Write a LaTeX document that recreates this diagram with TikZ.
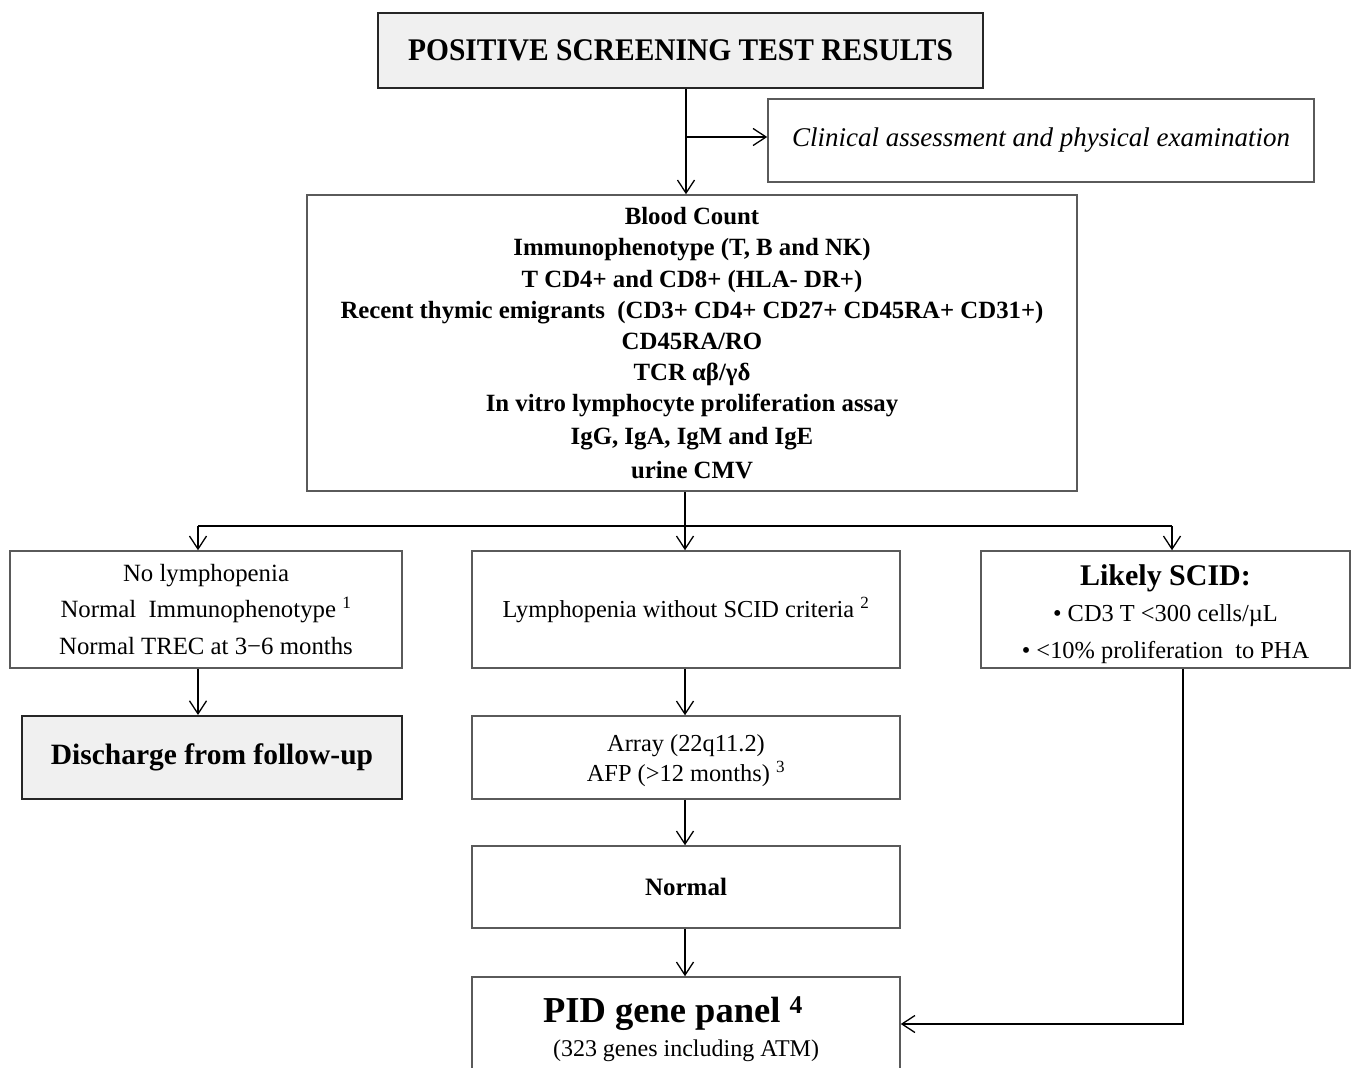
\documentclass[tikz,border=0pt]{standalone}
\usepackage{fontspec}
\setmainfont{Liberation Serif}
\usetikzlibrary{arrows.meta}
\definecolor{boxgray}{HTML}{5A5A5A}
\definecolor{darkedge}{HTML}{262626}
\definecolor{fillgray}{HTML}{F0F0F0}
\begin{document}
\begin{tikzpicture}[x=1pt,y=-1pt,
  box/.style={draw=boxgray, line width=1.5, inner sep=0pt, align=center, fill=white},
  graybox/.style={draw=darkedge, line width=2, inner sep=0pt, align=center, fill=fillgray},
  conn/.style={draw=black, line width=1.3, -{Straight Barb[length=13pt,width=17pt]}},
  busline/.style={draw=black, line width=2.6},
  scidline/.style={draw=black, line width=2, -{Straight Barb[length=13pt,width=17pt,line width=1.3pt]}},
]
\useasboundingbox (0,0) rectangle (1353,1068);

\node[graybox, minimum width=605, minimum height=75, font=\fontsize{31.5}{36}\selectfont\bfseries]
  (title) at (680.5,50.5) {\scalebox{0.935}[1]{POSITIVE SCREENING TEST RESULTS}};

\node[box, minimum width=546, minimum height=83, font=\fontsize{27}{30}\selectfont\itshape]
  (clin) at (1041,140.5) {Clinical assessment and physical examination};

\node[box, minimum width=770, minimum height=296, font=\fontsize{24.8}{31.2}\selectfont\bfseries]
  (blood) at (692,343) {Blood Count\\
  Immunophenotype (T, B and NK)\\
  T CD4+ and CD8+ (HLA- DR+)\\
  Recent thymic emigrants \ (CD3+ CD4+ CD27+ CD45RA+ CD31+)\\
  CD45RA/RO\\
  TCR αβ/γδ\\
  In vitro lymphocyte proliferation assay\\[1pt]
  IgG, IgA, IgM and IgE\\[3pt]
  urine CMV};

\node[box, minimum width=392, minimum height=117, font=\fontsize{24.8}{36.5}\selectfont]
  (b1) at (206,609.5) {No lymphopenia\\
  Normal \ Immunophenotype \textsuperscript{1}\\
  Normal TREC at 3−6 months};

\node[box, minimum width=428, minimum height=117, font=\fontsize{24.4}{30}\selectfont]
  (b2) at (686,609.5) {Lymphopenia without SCID criteria \textsuperscript{2}};

\node[box, minimum width=369, minimum height=117] (b3) at (1165.5,609.5) {};
\node[align=center, inner sep=0pt, font=\fontsize{24.4}{36.5}\selectfont]
  (b3t) at (1165.5,614) {{\fontsize{30}{30}\selectfont\bfseries Likely SCID:}\\
  • CD3 T <300 cells/µL\\
  • <10\% proliferation \ to PHA};

\node[graybox, minimum width=380, minimum height=83, font=\fontsize{29.5}{30}\selectfont\bfseries]
  (disch) at (212,757.5) {Discharge from follow-up};

\node[box, minimum width=428, minimum height=83] (array) at (686,757.5) {};
\node[align=center, inner sep=0pt, font=\fontsize{24.4}{30}\selectfont]
  (arrayt) at (686,760.5) {Array (22q11.2)\\
  AFP (>12 months) \textsuperscript{3}};

\node[box, minimum width=428, minimum height=82, font=\fontsize{25}{30}\selectfont\bfseries]
  (normal) at (686,887) {Normal};

\node[box, minimum width=428, minimum height=104, font=\fontsize{24}{34}\selectfont]
  (pid) at (686,1029) {{\fontsize{36.5}{34}\selectfont\bfseries PID gene panel \textsuperscript{4}\hspace*{26pt}}\\
  (323 genes including ATM)};

% connectors
\coordinate (cx) at (686,137);
\draw[conn] (title.south -| cx) -- (blood.north -| cx);
\draw[conn] (cx) -- (clin.west |- cx);

\coordinate (bus) at (685,526);
\coordinate (busL) at (198,526);
\coordinate (busR) at (1172,526);
\draw[busline] (blood.south -| bus) -- (bus);
\draw[busline] (busL) -- (busR);
\draw[conn] (busL) -- (b1.north -| busL);
\draw[conn] (bus) -- (b2.north -| bus);
\draw[conn] (busR) -- (b3.north -| busR);

\draw[conn] (b1.south -| busL) -- (disch.north -| busL);
\draw[conn] (b2.south -| bus) -- (array.north -| bus);
\draw[conn] (array.south -| bus) -- (normal.north -| bus);
\draw[conn] (normal.south -| bus) -- (pid.north -| bus);

\coordinate (rc) at (1183,1024);
\draw[scidline] (b3.south -| rc) -- (rc) -- (pid.east |- rc);
\end{tikzpicture}
\end{document}
